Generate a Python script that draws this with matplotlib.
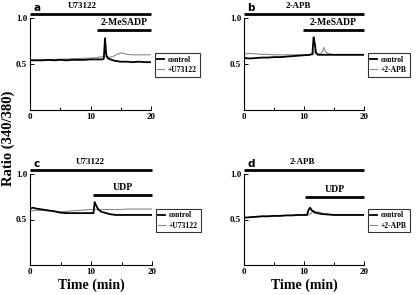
import matplotlib
matplotlib.use("Agg")
import matplotlib.pyplot as plt

# ---------------- data ----------------
# panel a : U73122 / 2-MeSADP
ta_ctrl = [0, 1, 2, 3, 4, 5, 6, 7, 8, 9, 10, 11, 11.5, 12, 12.2, 12.4, 12.6, 12.9, 13.3, 14, 15, 16, 17, 18, 19, 20]
ya_ctrl = [0.54, 0.54, 0.54, 0.545, 0.54, 0.545, 0.54, 0.545, 0.545, 0.545, 0.55, 0.55, 0.55, 0.55, 0.56, 0.78,
           0.60, 0.56, 0.55, 0.535, 0.525, 0.525, 0.52, 0.525, 0.52, 0.52]
ta_drug = [0, 2, 4, 6, 8, 10, 11, 12, 12.4, 12.8, 13.5, 14, 14.5, 15, 15.5, 16, 17, 18, 19, 20]
ya_drug = [0.54, 0.545, 0.55, 0.555, 0.56, 0.565, 0.57, 0.58, 0.58, 0.575, 0.575, 0.59, 0.61, 0.62, 0.615,
           0.605, 0.60, 0.60, 0.60, 0.60]

# panel b : 2-APB / 2-MeSADP
tb_ctrl = [0, 1, 2, 3, 4, 5, 6, 7, 8, 9, 10, 11, 11.4, 11.6, 11.8, 12.0, 12.3, 13, 14, 15, 16, 17, 18, 19, 20]
yb_ctrl = [0.565, 0.56, 0.565, 0.57, 0.57, 0.575, 0.575, 0.58, 0.585, 0.59, 0.595, 0.60, 0.61, 0.79, 0.72,
           0.62, 0.60, 0.60, 0.60, 0.60, 0.60, 0.60, 0.60, 0.60, 0.60]
tb_drug = [0, 1, 2, 3, 4, 5, 6, 7, 8, 9, 10, 11, 11.5, 11.8, 12.2, 12.8, 13.1, 13.3, 13.6, 14, 15, 16, 17,
           18, 19, 20]
yb_drug = [0.61, 0.615, 0.61, 0.605, 0.605, 0.60, 0.60, 0.60, 0.60, 0.60, 0.60, 0.60, 0.60, 0.65, 0.61, 0.61,
           0.64, 0.68, 0.63, 0.615, 0.60, 0.60, 0.60, 0.60, 0.60, 0.60]

# panel c : U73122 / UDP
tc_ctrl = [0, 0.5, 1, 2, 3, 4, 5, 6, 7, 8, 9, 10, 10.4, 10.6, 10.8, 11.2, 11.7, 12.5, 13, 14, 15, 16, 17, 18,
           19, 20]
yc_ctrl = [0.62, 0.63, 0.62, 0.61, 0.60, 0.59, 0.575, 0.57, 0.57, 0.57, 0.57, 0.57, 0.57, 0.69, 0.66, 0.61,
           0.585, 0.57, 0.56, 0.55, 0.55, 0.55, 0.55, 0.55, 0.55, 0.55]
tc_drug = [0, 1, 2, 3, 4, 5, 6, 7, 8, 9, 10, 11, 12, 13, 14, 15, 16, 17, 18, 19, 20]
yc_drug = [0.595, 0.60, 0.60, 0.595, 0.59, 0.585, 0.59, 0.595, 0.60, 0.605, 0.61, 0.61, 0.61, 0.61, 0.61,
           0.61, 0.615, 0.615, 0.615, 0.615, 0.615]

# panel d : 2-APB / UDP
td_ctrl = [0, 1, 2, 3, 4, 5, 6, 7, 8, 9, 10, 10.5, 10.8, 11.0, 11.3, 11.7, 12.2, 13, 14, 15, 16, 17, 18, 19, 20]
yd_ctrl = [0.52, 0.525, 0.53, 0.535, 0.535, 0.54, 0.54, 0.545, 0.545, 0.55, 0.55, 0.55, 0.61, 0.63, 0.60,
           0.58, 0.57, 0.56, 0.555, 0.55, 0.55, 0.55, 0.55, 0.55, 0.55]
td_drug = [0, 1, 2, 3, 4, 5, 6, 7, 8, 9, 10, 10.8, 11.2, 11.6, 12.0, 12.4, 13, 14, 15, 16, 17, 18, 19, 20]
yd_drug = [0.52, 0.525, 0.53, 0.535, 0.535, 0.54, 0.54, 0.545, 0.545, 0.55, 0.55, 0.55, 0.57, 0.60, 0.58,
           0.585, 0.57, 0.56, 0.55, 0.55, 0.55, 0.55, 0.55, 0.55]

letters = ["a", "b", "c", "d"]
inhibitors = ["U73122", "2-APB", "U73122", "2-APB"]
agonists = ["2-MeSADP", "2-MeSADP", "UDP", "UDP"]
drug_labels = ["+U73122", "+2-APB", "+U73122", "+2-APB"]
agonist_start = [11.0, 9.8, 10.4, 10.2]
agonist_bar_y = [0.87, 0.87, 0.77, 0.75]
x_ticks = [0, 10, 20]
y_ticks = [0.5, 1.0]

series = [
    (ta_ctrl, ya_ctrl, ta_drug, ya_drug),
    (tb_ctrl, yb_ctrl, tb_drug, yb_drug),
    (tc_ctrl, yc_ctrl, tc_drug, yc_drug),
    (td_ctrl, yd_ctrl, td_drug, yd_drug),
]

# ---------------- figure ----------------
serif = ["Liberation Serif", "DejaVu Serif"]
fig = plt.figure(figsize=(4.16, 2.95), dpi=100)
W, H = 416.0, 295.0
boxes = [(30, 18, 121, 92), (244, 18, 120, 92), (30, 174, 122, 91), (244, 174, 120, 91)]
inhib_label_x = [8.6, 9.0, 9.9, 9.7]

for i, (l, t, w, h) in enumerate(boxes):
    ax = fig.add_axes([l / W, (H - t - h) / H, w / W, h / H])
    tcx, tcy, tdx, tdy = series[i]
    ax.plot(tdx, tdy, color="#8a8a8a", lw=0.8, label=drug_labels[i], zorder=2)
    ax.plot(tcx, tcy, color="black", lw=1.3, label="control", zorder=3)
    ax.set_xlim(0, 20)
    ax.set_ylim(0, 1.0)
    for s in ["top", "right"]:
        ax.spines[s].set_visible(False)
    for s in ["left", "bottom"]:
        ax.spines[s].set_linewidth(0.8)
    ax.set_xticks(x_ticks)
    ax.set_xticks([5, 15], minor=True)
    ax.set_yticks(y_ticks)
    ax.set_yticklabels([f"{v:.1f}" for v in y_ticks])
    ax.tick_params(direction="in", length=3, width=0.7, labelsize=6.5, pad=2)
    ax.tick_params(which="minor", direction="in", length=2, width=0.7)
    for lab in ax.get_xticklabels() + ax.get_yticklabels():
        lab.set_fontfamily(serif)
        lab.set_fontweight("bold")

    # inhibitor bar
    ax.plot([0, 20], [1.045, 1.045], color="black", lw=2.0, clip_on=False, solid_capstyle="butt")
    ax.text(inhib_label_x[i], 1.085, inhibitors[i], ha="center", va="bottom", fontsize=6.5,
            fontweight="bold", family=serif)
    # agonist bar
    ax.plot([agonist_start[i], 20], [agonist_bar_y[i]] * 2, color="black", lw=2.0, clip_on=False,
            solid_capstyle="butt")
    ax.text((agonist_start[i] + 20) / 2, agonist_bar_y[i] + 0.035, agonists[i], ha="center",
            va="bottom", fontsize=7, fontweight="bold", family=serif)
    # panel letter
    ax.text(0.03, 1.075, letters[i], transform=ax.transAxes, ha="left", va="baseline", fontsize=7.5,
            fontweight="bold", family="DejaVu Sans")

    handles, labels = ax.get_legend_handles_labels()
    leg = ax.legend(handles[::-1], labels[::-1], loc="upper left", bbox_to_anchor=(1.03, 0.62),
                    borderaxespad=0, frameon=True, fancybox=False, handlelength=0.9,
                    handletextpad=0.5, borderpad=0.35, labelspacing=0.3,
                    prop={"family": serif, "weight": "bold", "size": 5.5})
    leg.get_frame().set_edgecolor("black")
    leg.get_frame().set_linewidth(0.8)

    if i >= 2:
        ax.set_xlabel("Time (min)", fontsize=10, fontweight="bold", family=serif, labelpad=2)

fig.text(8 / W, 1 - 138 / H, "Ratio (340/380)", rotation=90, ha="center", va="center",
         fontsize=10.5, fontweight="bold", family=serif)

fig.savefig("out.png", dpi=100)
